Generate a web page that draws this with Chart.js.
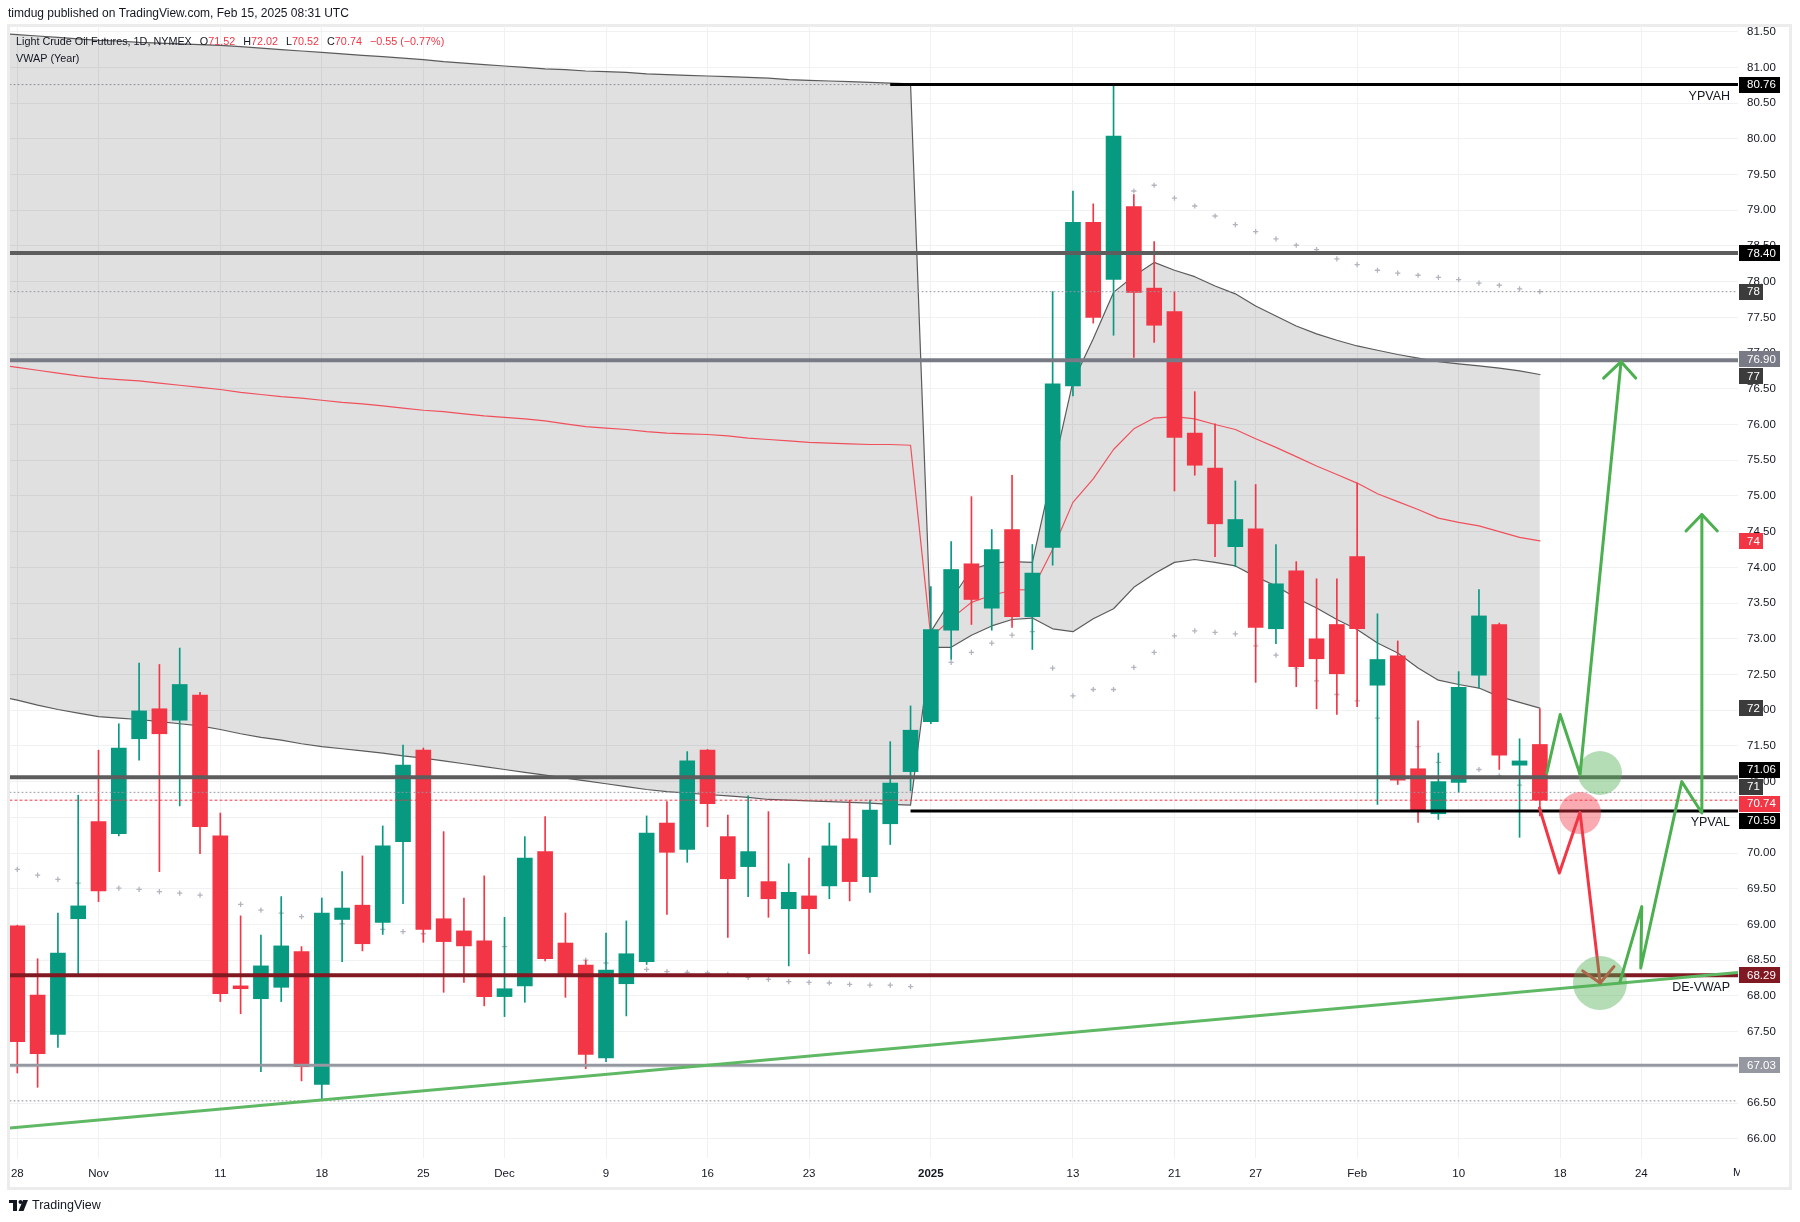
<!DOCTYPE html>
<html>
<head>
<meta charset="utf-8">
<script src="https://cdn.jsdelivr.net/npm/chart.js@4.4.1/dist/chart.umd.min.js"></script>
<style>
  html, body { margin: 0; padding: 0; background: #fff; }
  canvas { display: block; }
</style>
</head>
<body>
<canvas id="grafico" width="1800" height="1222" style="width:1800px;height:1222px"></canvas>
<script>
// sesiones (barra diaria CL, NYMEX)
const fechas = ['2024-10-28','2024-10-29','2024-10-30','2024-10-31','2024-11-01','2024-11-04','2024-11-05','2024-11-06','2024-11-07','2024-11-08',
  '2024-11-11','2024-11-12','2024-11-13','2024-11-14','2024-11-15','2024-11-18','2024-11-19','2024-11-20','2024-11-21','2024-11-22',
  '2024-11-25','2024-11-26','2024-11-27','2024-11-29','2024-12-02','2024-12-03','2024-12-04','2024-12-05','2024-12-06','2024-12-09',
  '2024-12-10','2024-12-11','2024-12-12','2024-12-13','2024-12-16','2024-12-17','2024-12-18','2024-12-19','2024-12-20','2024-12-23',
  '2024-12-24','2024-12-26','2024-12-27','2024-12-30','2024-12-31','2025-01-02','2025-01-03','2025-01-06','2025-01-07','2025-01-08',
  '2025-01-09','2025-01-10','2025-01-13','2025-01-14','2025-01-15','2025-01-16','2025-01-17','2025-01-21','2025-01-22','2025-01-23',
  '2025-01-24','2025-01-27','2025-01-28','2025-01-29','2025-01-30','2025-01-31','2025-02-03','2025-02-04','2025-02-05','2025-02-06',
  '2025-02-07','2025-02-10','2025-02-11','2025-02-12','2025-02-13','2025-02-14'];

const apertura = [68.98,68.01,67.46,69.08,70.44,70.27,71.60,72.02,71.86,72.21,
  70.24,68.14,67.96,68.12,68.62,66.76,69.07,69.27,69.03,70.16,
  71.44,69.08,68.91,68.77,67.99,68.14,70.02,68.74,68.43,67.13,
  68.17,68.48,70.42,70.05,71.44,70.23,69.81,69.60,69.22,69.40,
  69.54,70.20,69.67,70.41,71.14,71.84,73.12,74.05,73.43,74.53,
  73.31,74.28,76.54,78.83,78.03,79.05,77.91,77.58,75.88,75.39,
  74.29,74.54,73.14,73.95,73.00,73.20,74.15,72.35,72.76,71.18,
  70.55,70.99,72.49,73.20,71.23,71.52];
const maximo = [68.99,68.52,69.16,70.81,71.44,71.81,72.66,72.64,72.87,72.25,
  70.56,69.12,68.85,69.39,68.69,69.37,69.74,69.96,70.38,71.51,
  71.47,70.30,69.37,69.68,69.10,70.23,70.51,69.16,68.50,68.88,
  69.05,70.52,70.72,71.42,71.45,70.53,70.80,70.58,69.85,69.93,
  70.42,70.74,70.74,71.56,72.06,73.73,74.36,74.99,74.53,75.29,
  74.32,77.86,79.27,79.09,80.76,79.22,78.56,77.86,76.46,76.01,
  75.21,75.16,74.32,74.08,73.84,73.84,75.18,73.35,72.97,71.85,
  71.40,72.54,73.69,73.22,71.60,72.02];
const minimo = [66.92,66.72,67.28,68.30,69.32,70.24,71.30,69.74,70.66,69.99,
  67.92,67.75,66.94,67.92,66.81,66.55,68.48,68.63,68.86,69.29,
  68.75,68.05,68.19,67.86,67.71,67.91,68.49,67.98,66.98,67.08,
  67.72,68.44,69.14,69.87,70.37,68.82,69.39,69.10,68.42,68.59,
  69.36,69.33,69.45,70.12,70.87,71.81,72.71,73.20,73.12,73.16,
  72.85,74.03,76.40,77.42,77.25,76.94,77.15,75.07,75.29,74.15,
  74.01,72.39,72.93,72.33,72.02,71.94,72.05,70.68,70.96,70.43,
  70.47,70.85,72.31,71.17,70.22,70.52];
const cierre = [67.36,67.19,68.60,69.26,69.47,71.47,71.99,71.67,72.36,70.37,
  68.03,68.10,68.42,68.70,67.01,69.16,69.23,68.73,70.10,71.23,
  68.93,68.76,68.70,67.99,68.10,69.93,68.52,68.28,67.18,68.36,
  68.59,70.28,70.01,71.29,70.69,69.64,70.02,69.36,69.45,69.22,
  70.10,69.60,70.60,70.98,71.72,73.13,73.97,73.55,74.25,73.31,
  73.92,76.57,78.83,77.50,80.04,77.85,77.39,75.82,75.43,74.61,
  74.67,73.16,73.77,72.61,72.72,72.51,73.14,72.71,71.02,70.59,
  71.00,72.32,73.32,71.37,71.29,70.74];

// VWAP anclado al año (banda superior, inferior y linea central)
// valor de la sesion anterior (2024-10-25), fuera del borde izquierdo
const previoSup = 81.48, previoInf = 72.20, previoVwap = 76.84;
const bandaSup = [81.46,81.44,81.42,81.40,81.38,81.37,81.35,81.34,81.33,81.32,
  81.31,81.29,81.27,81.25,81.23,81.21,81.19,81.17,81.15,81.13,
  81.11,81.08,81.06,81.04,81.02,81.00,80.98,80.97,80.95,80.94,
  80.93,80.91,80.90,80.89,80.88,80.87,80.86,80.85,80.83,80.82,
  80.81,80.80,80.79,80.78,80.77,73.10,73.55,73.97,74.06,74.08,
  74.07,75.34,76.60,77.20,77.85,78.08,78.27,78.16,78.07,77.94,
  77.83,77.66,77.52,77.38,77.27,77.18,77.10,77.04,76.98,76.93,
  76.88,76.85,76.82,76.79,76.75,76.70];
const bandaInf = [72.14,72.07,72.01,71.96,71.91,71.89,71.87,71.84,71.81,71.78,
  71.73,71.67,71.62,71.58,71.53,71.49,71.46,71.43,71.40,71.36,
  71.33,71.29,71.25,71.21,71.17,71.13,71.09,71.05,71.01,70.97,
  70.93,70.89,70.86,70.84,70.82,70.80,70.78,70.75,70.74,70.73,
  70.72,70.71,70.70,70.68,70.67,72.88,72.88,73.05,73.18,73.27,
  73.29,73.14,73.10,73.28,73.42,73.72,73.91,74.07,74.11,74.07,
  74.02,73.87,73.74,73.57,73.43,73.27,73.13,72.94,72.80,72.59,
  72.42,72.36,72.31,72.19,72.11,72.03];
const vwap = [76.80,76.76,76.72,76.68,76.65,76.63,76.61,76.58,76.55,76.52,
  76.49,76.45,76.42,76.39,76.37,76.34,76.31,76.29,76.26,76.23,
  76.20,76.18,76.15,76.12,76.10,76.08,76.05,76.01,75.97,75.95,
  75.93,75.90,75.88,75.87,75.86,75.84,75.81,75.79,75.77,75.75,
  75.74,75.73,75.72,75.72,75.71,73.02,73.28,73.51,73.61,73.68,
  73.69,74.25,74.91,75.24,75.65,75.94,76.09,76.11,76.08,76.00,
  75.93,75.80,75.68,75.55,75.42,75.30,75.18,75.03,74.92,74.81,
  74.69,74.63,74.58,74.50,74.42,74.37];

// cruces grises (bandas externas)
const cruzInf = [69.77,69.69,69.63,69.58,69.55,69.51,69.49,69.46,69.44,69.41,
  69.35,69.28,69.20,69.16,69.11,69.06,69.01,68.97,68.93,68.90,
  68.87,68.84,68.80,68.74,68.69,68.64,68.59,68.54,68.50,68.46,
  68.41,68.37,68.34,68.33,68.32,68.30,68.26,68.23,68.20,68.19,
  68.18,68.16,68.15,68.15,68.13,null,72.67,72.81,72.94,73.05,
  73.10,72.59,72.20,72.29,72.29,72.60,72.81,73.04,73.11,73.09,
  73.07,72.90,72.77,72.59,72.41,72.22,72.13,71.89,71.70,71.49,
  71.27,71.22,71.17,71.08,70.95,70.85];
const cruzSup = [null,null,null,null,null,null,null,null,null,null,
  null,null,null,null,null,null,null,null,null,null,
  null,null,null,null,null,null,null,null,null,null,
  null,null,null,null,null,null,null,null,null,null,
  null,null,null,null,null,null,null,null,null,null,
  null,null,null,null,null,79.27,79.35,79.17,79.06,78.92,
  78.80,78.70,78.60,78.51,78.45,78.32,78.24,78.16,78.12,78.09,
  78.06,78.03,77.98,77.95,77.90,77.86];

// niveles horizontales (precio y barra donde empiezan)
const nivelesValor  = [80.76, 78.40, 76.90, 71.06, 70.59, 68.29, 67.03];
const nivelesDesde  = [43, null, null, null, 44, null, null];
const nivelesNombre = ['YPVAH', '', '', '', 'YPVAL', 'DE-VWAP', ''];
const punteadasGris = [80.76, 66.53];

// dibujos: [barra, precio]
const tendencia   = [[-0.4, 66.15], [84.8, 68.33]];
const rutaVerde1  = [[75.34, 71.12], [76.0, 71.94], [76.98, 71.10], [79.0, 76.88]];
const puntaVerde1 = [[78.14, 76.65], [79.0, 76.88], [79.72, 76.65]];
const rutaRoja    = [[74.98, 70.63], [75.96, 69.72], [76.98, 70.57], [77.97, 68.18]];
const puntaRoja   = [[77.11, 68.35], [77.97, 68.18], [78.65, 68.41]];
const rutaVerde2  = [[78.95, 68.20], [80.02, 69.25], [79.97, 68.39], [81.99, 71.00], [82.98, 70.56], [82.98, 74.74]];
const puntaVerde2 = [[82.2, 74.51], [82.98, 74.74], [83.74, 74.51]];
const circulosVerdes = [[77.96, 71.12]];
const circuloGrande  = [[77.96, 68.18]];
const circulosRojos  = [[76.98, 70.56]];

// ejes
const ejeXPos   = [0, 4, 10, 15, 20, 24, 29, 34, 39, 45, 52, 57, 61, 66, 71, 76, 80, 85];
const ejeXTexto = ['28','Nov','11','18','25','Dec','9','16','23','2025','13','21','27','Feb','10','18','24','Mar'];
const ejeYTicks = [66.0,66.5,67.0,67.5,68.0,68.5,69.0,69.5,70.0,70.5,71.0,71.5,72.0,72.5,73.0,73.5,
  74.0,74.5,75.0,75.5,76.0,76.5,77.0,77.5,78.0,78.5,79.0,79.5,80.0,80.5,81.0,81.5];

const X_MIN = -0.36, X_MAX = 84.76, Y_MIN = 65.73, Y_MAX = 81.58;
const ALZA = '#089981', BAJA = '#f23645', VERDE = '#4caf50';
const FUENTE = "'Liberation Sans', Arial, sans-serif";
const TINTA = '#131722';

const idx = fechas.map((f, i) => i);
const colorVela = idx.map(i => cierre[i] >= apertura[i] ? ALZA : BAJA);
const puntos = arr => arr.map(p => ({ x: p[0], y: p[1] }));
const serie = (previo, arr) => [{ x: -1, y: previo }].concat(idx.map(i => ({ x: i, y: arr[i] })));

function linea(data, color, ancho, orden, extra) {
  return Object.assign({
    type: 'line', data: data, borderColor: color, borderWidth: ancho,
    pointRadius: 0, tension: 0, fill: false, order: orden,
    borderCapStyle: 'round', borderJoinStyle: 'round'
  }, extra || {});
}

const colorNivel = { 80.76: '#000000', 78.40: '#5d5d5d', 76.90: '#787b86', 71.06: '#5d5d5d', 70.59: '#000000', 68.29: '#801922', 67.03: '#9598a1' };
const anchoNivel = { 80.76: 3, 78.40: 4, 76.90: 4, 71.06: 4, 70.59: 3, 68.29: 4, 67.03: 3 };

const conjuntos = [
  linea(serie(previoSup, bandaSup), '#5b5b5b', 1.2, 30),
  linea(serie(previoInf, bandaInf), '#5b5b5b', 1.2, 29, { fill: '-1', backgroundColor: 'rgba(0,0,0,0.12)' }),
  linea(serie(previoVwap, vwap), '#f0505c', 1.2, 28),
  {
    type: 'scatter', order: 27,
    data: idx.filter(i => cruzInf[i] !== null).map(i => ({ x: i, y: cruzInf[i] }))
      .concat(idx.filter(i => cruzSup[i] !== null).map(i => ({ x: i, y: cruzSup[i] }))),
    pointStyle: 'cross', pointRadius: 2.6, borderColor: '#b2b5be', borderWidth: 1.3
  },
  {
    type: 'bar', order: 26, grouped: false, barThickness: 1,
    data: idx.map(i => ({ x: i, y: [minimo[i], maximo[i]] })), backgroundColor: colorVela
  },
  {
    type: 'bar', order: 25, grouped: false, barThickness: 15,
    data: idx.map(i => ({ x: i, y: [apertura[i], cierre[i]] })), backgroundColor: colorVela
  },
  linea([{ x: X_MIN, y: cruzSup[75] }, { x: X_MAX, y: cruzSup[75] }], '#9598a1', 1, 24, { borderDash: [1, 3] }),
  linea([{ x: X_MIN, y: cruzInf[75] }, { x: X_MAX, y: cruzInf[75] }], '#9598a1', 1, 24, { borderDash: [1, 3] }),
  linea([{ x: X_MIN, y: cierre[75] }, { x: X_MAX, y: cierre[75] }], BAJA, 1, 24, { borderDash: [2, 3] })
];

punteadasGris.forEach(v => {
  conjuntos.push(linea([{ x: X_MIN, y: v }, { x: X_MAX, y: v }], '#8a8d96', 1, 24, { borderDash: [1, 3] }));
});

nivelesValor.forEach((v, k) => {
  const desde = nivelesDesde[k] === null ? X_MIN : nivelesDesde[k];
  conjuntos.push(linea([{ x: desde, y: v }, { x: X_MAX, y: v }], colorNivel[v], anchoNivel[v], 20,
    { borderCapStyle: 'butt' }));
});

conjuntos.push(linea(puntos(tendencia), '#5fb863', 3, 15));
conjuntos.push(linea(puntos(rutaVerde1), VERDE, 3, 12));
conjuntos.push(linea(puntos(puntaVerde1), VERDE, 3, 12));
conjuntos.push(linea(puntos(rutaVerde2), VERDE, 3, 12));
conjuntos.push(linea(puntos(puntaVerde2), VERDE, 3, 12));
conjuntos.push(linea(puntos(rutaRoja), BAJA, 3, 11));
conjuntos.push(linea(puntos(puntaRoja), BAJA, 3, 11));

conjuntos.push({ type: 'scatter', order: 5, data: puntos(circulosVerdes), pointRadius: 22, borderWidth: 0, backgroundColor: 'rgba(76,175,80,0.42)' });
conjuntos.push({ type: 'scatter', order: 5, data: puntos(circuloGrande), pointRadius: 27, borderWidth: 0, backgroundColor: 'rgba(76,175,80,0.42)' });
conjuntos.push({ type: 'scatter', order: 5, data: puntos(circulosRojos), pointRadius: 21, borderWidth: 0, backgroundColor: 'rgba(242,54,69,0.42)' });

// etiquetas del eje de precios
function etiquetasEje() {
  const lista = [];
  nivelesValor.forEach(v => {
    const fondo = (v === 76.90 || v === 67.03) ? colorNivel[v] : (v === 68.29 ? '#801922' : '#000000');
    lista.push({ valor: v, texto: v.toFixed(2), fondo: fondo, corto: false });
  });
  lista.push({ valor: cierre[75], texto: cierre[75].toFixed(2), fondo: BAJA, corto: false });
  lista.push({ valor: cruzSup[75], texto: String(Math.round(cruzSup[75])), fondo: '#3c3c3c', corto: true });
  lista.push({ valor: bandaSup[75], texto: String(Math.round(bandaSup[75])), fondo: '#3c3c3c', corto: true });
  lista.push({ valor: vwap[75], texto: String(Math.round(vwap[75])), fondo: BAJA, corto: true });
  lista.push({ valor: bandaInf[75], texto: String(Math.round(bandaInf[75])), fondo: '#3c3c3c', corto: true });
  lista.push({ valor: cruzInf[75], texto: String(Math.round(cruzInf[75])), fondo: '#3c3c3c', corto: true });
  return lista;
}

const pluginTexto = {
  id: 'textos',
  beforeDraw(chart) {
    const c = chart.ctx;
    c.save();
    c.fillStyle = '#ffffff';
    c.fillRect(0, 0, chart.width, chart.height);
    c.strokeStyle = '#ececed';
    c.lineWidth = 3;
    c.strokeRect(8.5, 25.5, 1782, 1163);
    c.restore();
  },
  afterDraw(chart) {
    const c = chart.ctx;
    const area = chart.chartArea;
    const sy = chart.scales.y, sx = chart.scales.x;
    c.save();
    c.textBaseline = 'middle';

    // cabecera
    c.font = '12px ' + FUENTE;
    c.fillStyle = TINTA;
    c.textAlign = 'left';
    c.fillText('timdug published on TradingView.com, Feb 15, 2025 08:31 UTC', 8, 14);

    // leyenda
    c.font = '10.8px ' + FUENTE;
    let x = 16;
    c.fillStyle = TINTA;
    c.fillText('Light Crude Oil Futures, 1D, NYMEX', x, 42);
    x += c.measureText('Light Crude Oil Futures, 1D, NYMEX').width + 8;
    const ohlc = [['O', apertura[75]], ['H', maximo[75]], ['L', minimo[75]], ['C', cierre[75]]];
    ohlc.forEach(par => {
      c.fillStyle = TINTA;
      c.fillText(par[0], x, 42);
      x += c.measureText(par[0]).width;
      c.fillStyle = BAJA;
      c.fillText(par[1].toFixed(2), x, 42);
      x += c.measureText(par[1].toFixed(2)).width + 8;
    });
    c.fillStyle = BAJA;
    c.fillText('\u22120.55 (\u22120.77%)', x, 42);
    c.fillStyle = TINTA;
    c.fillText('VWAP (Year)', 16, 59);

    // nombres de niveles
    c.font = '12.5px ' + FUENTE;
    c.textAlign = 'right';
    c.fillStyle = TINTA;
    nivelesValor.forEach((v, k) => {
      if (nivelesNombre[k]) c.fillText(nivelesNombre[k], area.right - 8, sy.getPixelForValue(v) + 12);
    });

    // marzo recortado
    c.save();
    c.beginPath();
    c.rect(area.left, area.bottom, area.right - area.left + 2, 40);
    c.clip();
    c.font = '11.5px ' + FUENTE;
    c.textAlign = 'center';
    c.fillStyle = TINTA;
    c.fillText(ejeXTexto[17], sx.getPixelForValue(ejeXPos[17]), 1173);
    c.restore();

    // etiquetas del eje, separadas si se tapan
    const lista = etiquetasEje().map(e => Object.assign(e, { y: sy.getPixelForValue(e.valor) }));
    lista.sort((a, b) => a.y - b.y);
    const alto = 16, sep = 17;
    for (let n = 0; n < 200; n++) {
      for (let j = 0; j < lista.length - 1; j++) {
        const d = lista[j + 1].y - lista[j].y;
        if (d < sep) {
          const m = (sep - d) / 2;
          lista[j].y -= m;
          lista[j + 1].y += m;
        }
      }
    }
    c.font = '11.5px ' + FUENTE;
    c.textAlign = 'left';
    lista.forEach(e => {
      const w = e.corto ? 24 : 41;
      c.fillStyle = e.fondo;
      c.fillRect(area.right + 1, Math.round(e.y - alto / 2), w, alto);
      c.fillStyle = '#ffffff';
      c.fillText(e.texto, area.right + 9, e.y + 0.5);
    });

    // pie
    c.fillStyle = TINTA;
    c.fillRect(9, 1200, 8, 3);
    c.fillRect(13, 1200, 4, 11);
    c.beginPath();
    c.arc(20.5, 1202, 2, 0, Math.PI * 2);
    c.fill();
    c.beginPath();
    c.moveTo(23, 1200); c.lineTo(28, 1200); c.lineTo(23.5, 1211); c.lineTo(18.5, 1211);
    c.closePath();
    c.fill();
    c.font = '12.5px ' + FUENTE;
    c.fillText('TradingView', 32, 1206);
    c.restore();
  }
};

new Chart(document.getElementById('grafico'), {
  type: 'bar',
  data: { datasets: conjuntos },
  options: {
    responsive: false,
    animation: false,
    devicePixelRatio: 1,
    layout: { autoPadding: false, padding: { left: 10, top: 26, right: 10, bottom: 34 } },
    plugins: {
      legend: { display: false },
      tooltip: { enabled: false },
      filler: { drawTime: 'beforeDatasetsDraw' }
    },
    scales: {
      x: {
        type: 'linear', min: X_MIN, max: X_MAX, offset: false,
        grid: { color: '#f0f1f3', drawTicks: false, offset: false },
        border: { display: false },
        afterBuildTicks: s => { s.ticks = ejeXPos.filter(v => v <= X_MAX).map(v => ({ value: v })); },
        afterFit: s => { s.height = 30; s.paddingLeft = 0; s.paddingRight = 0; },
        ticks: {
          padding: 9, maxRotation: 0, autoSkip: false, color: TINTA,
          font: ctx => ({ family: FUENTE, size: 11.5, weight: (ctx.tick && ctx.tick.value === 45) ? 'bold' : 'normal' }),
          callback: v => ejeXTexto[ejeXPos.indexOf(v)]
        }
      },
      y: {
        type: 'linear', position: 'right', min: Y_MIN, max: Y_MAX,
        grid: { color: '#f0f1f3', drawTicks: false },
        border: { display: false },
        afterBuildTicks: s => { s.ticks = ejeYTicks.map(v => ({ value: v })); },
        afterFit: s => { s.width = 52; s.paddingTop = 0; s.paddingBottom = 0; },
        ticks: {
          padding: 9, color: TINTA,
          font: { family: FUENTE, size: 11.5 },
          callback: v => v.toFixed(2)
        }
      }
    }
  },
  plugins: [pluginTexto]
});
</script>
</body>
</html>
